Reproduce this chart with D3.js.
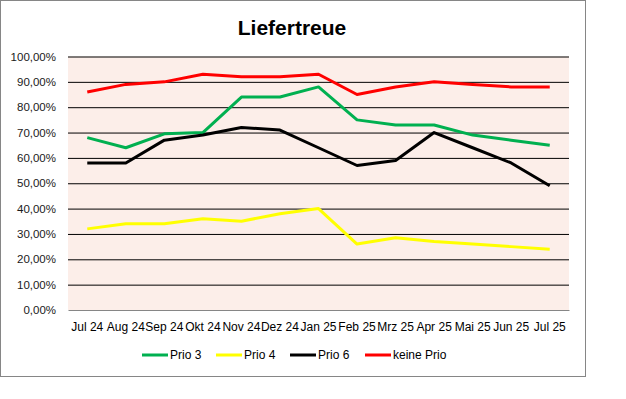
<!DOCTYPE html>
<html>
<head>
<meta charset="utf-8">
<script src="https://cdn.jsdelivr.net/npm/d3@7"></script>
<style>
  body { margin: 0; background: #fff; }
  text { font-family: "Liberation Sans", Arial, sans-serif; }
</style>
</head>
<body>
<div id="chart"></div>
<script>
const months = ['Jul 24', 'Aug 24', 'Sep 24', 'Okt 24', 'Nov 24', 'Dez 24', 'Jan 25',
  'Feb 25', 'Mrz 25', 'Apr 25', 'Mai 25', 'Jun 25', 'Jul 25'];
const prio3 = [68, 64, 69.5, 70, 84, 84, 88, 75, 73, 73, 69, 67, 65];
const prio4 = [32, 34, 34, 36, 35, 38, 40, 26, 28.5, 27, 26, 25, 24];
const prio6 = [58, 58, 67, 69, 72, 71, 64, 57, 59, 70, 64, 58, 49];
const keinePrio = [86, 89, 90, 93, 92, 92, 93, 85, 88, 90, 89, 88, 88];
const seriesNames = ['Prio 3', 'Prio 4', 'Prio 6', 'keine Prio'];
const seriesColors = ['#00B050', '#FFFF00', '#000000', '#FF0000'];
const yTicks = [0, 10, 20, 30, 40, 50, 60, 70, 80, 90, 100];

const series = [prio3, prio4, prio6, keinePrio].map((values, i) => ({
  name: seriesNames[i], color: seriesColors[i], values
}));

const width = 626, height = 399;
const margin = { top: 56.5, right: 57, bottom: 89, left: 68 };

const svg = d3.select('#chart').append('svg')
  .attr('width', width)
  .attr('height', height);

// chart frame
svg.append('rect')
  .attr('x', 0.5).attr('y', 0.5)
  .attr('width', 585).attr('height', 376)
  .attr('fill', '#fff')
  .attr('stroke', '#868686');

const x = d3.scaleBand()
  .domain(months)
  .range([margin.left, width - margin.right])
  .padding(0);

const y = d3.scaleLinear()
  .domain([0, 100])
  .range([height - margin.bottom, margin.top]);

const de = d3.formatLocale({ decimal: ',', thousands: '.', grouping: [3], currency: ['', '€'] });
const pct = v => de.format('.2f')(v) + '%';

// plot background
svg.append('rect')
  .attr('x', margin.left)
  .attr('y', y(100))
  .attr('width', width - margin.left - margin.right)
  .attr('height', y(0) - y(100))
  .attr('fill', '#FCEEE9');

// y axis with gridlines
const yAxis = svg.append('g')
  .attr('transform', `translate(${margin.left},0)`)
  .call(d3.axisLeft(y)
    .tickValues(yTicks)
    .tickSize(-(width - margin.left - margin.right))
    .tickPadding(12)
    .tickFormat(pct));
yAxis.select('.domain').remove();
yAxis.selectAll('.tick line')
  .attr('stroke', d => d === 0 ? 'none' : '#000')
  .attr('stroke-width', 1);
yAxis.selectAll('.tick text')
  .attr('fill', '#1a1a1a')
  .style('font-size', '11.5px');

// x axis
const xAxis = svg.append('g')
  .attr('transform', `translate(0,${y(0)})`)
  .call(d3.axisBottom(x).tickSize(0).tickPadding(12));
xAxis.select('.domain').attr('stroke', '#868686');
xAxis.selectAll('.tick text')
  .attr('fill', '#000')
  .style('font-size', '12px');

// lines
const line = d3.line()
  .x((d, i) => x(months[i]) + x.bandwidth() / 2)
  .y(d => y(d));

svg.selectAll('.series')
  .data(series)
  .enter()
  .append('path')
  .attr('class', 'series')
  .attr('d', d => line(d.values))
  .attr('fill', 'none')
  .attr('stroke', d => d.color)
  .attr('stroke-width', 3)
  .attr('stroke-linejoin', 'round');

// title
svg.append('text')
  .attr('x', 292)
  .attr('y', 35)
  .attr('text-anchor', 'middle')
  .style('font-size', '21px')
  .style('font-weight', 'bold')
  .text('Liefertreue');

// legend
const legendX = [142, 216, 290, 365];
const legend = svg.selectAll('.legend')
  .data(series)
  .enter()
  .append('g')
  .attr('class', 'legend')
  .attr('transform', (d, i) => `translate(${legendX[i]},355)`);

legend.append('line')
  .attr('x1', 0).attr('x2', 26)
  .attr('stroke', d => d.color)
  .attr('stroke-width', 3);

legend.append('text')
  .attr('x', 28)
  .attr('dy', '0.35em')
  .style('font-size', '12px')
  .attr('fill', '#000')
  .text(d => d.name);
</script>
</body>
</html>
